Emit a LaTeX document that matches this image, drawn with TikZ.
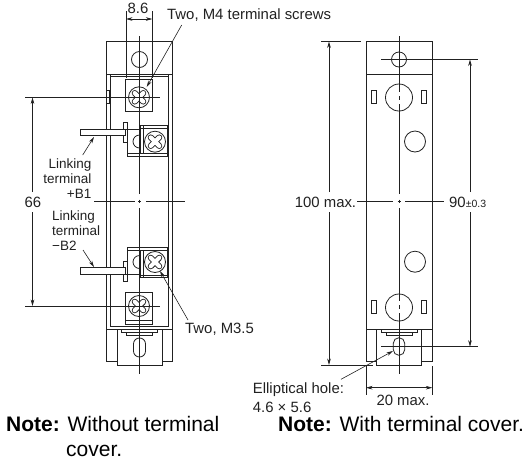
\documentclass[tikz,border=0pt]{standalone}
\usepackage{fontspec}
\setmainfont{Liberation Sans}
\usetikzlibrary{arrows.meta}
\definecolor{ink}{gray}{0.13}
\tikzset{
  body/.style={draw=ink,line width=0.8pt},
  thin line/.style={draw=ink,line width=0.6pt},
  dim/.style={draw=ink,line width=0.6pt,{Stealth[length=6.5pt,width=3.6pt]}-{Stealth[length=6.5pt,width=3.6pt]}},
  lead/.style={draw=ink,line width=0.6pt,-{Stealth[length=6.5pt,width=3.6pt]}},
  label/.style={inner sep=0pt,font=\fontsize{14.9}{15.2}\selectfont,text=ink},
  small label/.style={inner sep=0pt,font=\fontsize{13.5}{15.2}\selectfont,text=ink},
  note/.style={inner sep=0pt,font=\fontsize{21}{24}\selectfont,text=black,anchor=base west},
}
\newcommand{\myscrew}[2]{%
  \draw[body,fill=white] (#1,#2) circle (10.5);
  \foreach \ang in {45,135}{\draw[ink,line width=6pt,line cap=round] (#1,#2) ++(\ang:6) -- ++(\ang:-12);}
  \foreach \ang in {45,135}{\draw[white,line width=4.2pt,line cap=round] (#1,#2) ++(\ang:6) -- ++(\ang:-12);}
}
\newcommand{\mybottom}[1]{%
  \draw[body] (#1-33,329.3) rectangle (#1+33.2,361.7);
  \draw[body,fill=white] (#1-22.5,329.3) rectangle (#1+22.5,365);
  \draw[body] (#1-18,329.5) -- (#1-18,332.5) -- (#1+18,332.5) -- (#1+18,329.5);
  \draw[body] (#1-13,332.5) -- (#1-13,335.3) -- (#1+13,335.3) -- (#1+13,332.5);
}
\begin{document}
\begin{tikzpicture}[x=1pt,y=-1pt]
\useasboundingbox (0,0) rectangle (525,459);
% ---------- left view ----------
\draw[body] (106.5,41.5) rectangle (172.5,74);
\draw[body] (139.5,59.5) circle (8);
\draw[body] (106.5,74) -- (106.5,329.3) (110,74) -- (110,326.7) (168.5,74) -- (168.5,326.7) (172.5,74) -- (172.5,329.3);
\draw[body] (110,76.7) -- (168.5,76.7) (110,326.7) -- (168.5,326.7);
\draw[body] (106.5,90) rectangle (109.5,103);
% terminal squares
\draw[body,fill=white] (125.5,79) rectangle (152.5,111.5);
\draw[body,fill=white] (125.5,292) rectangle (152.5,324.5);
\draw[body] (125.5,320.5) -- (152.5,320.5);
% upper link block
\draw[body,fill=white] (140,125.7) rectangle (167.7,153.5);
\draw[body] (127.3,135.7) -- (127.3,156) -- (167.7,156) -- (167.7,153.5) (127.3,153.5) -- (140,153.5);
\draw[body] (143,125.7) -- (143,153.5) (140,128) -- (167.7,128);
\draw[body] (139.5,135) arc (270:90:6.5);
\draw[body,fill=white] (123.3,122.5) rectangle (127.3,142);
\draw[body,fill=white] (80.5,129) rectangle (125,135.7);
\draw[body] (125,129) -- (140,129);
% lower link block
\draw[body,fill=white] (140,250) rectangle (167.7,277.8);
\draw[body] (127.3,267.8) -- (127.3,247) -- (167.7,247) -- (167.7,250) (127.3,250) -- (140,250);
\draw[body] (143,250) -- (143,277.8) (140,275.5) -- (167.7,275.5);
\draw[body] (139.5,255.5) arc (270:90:6.5);
\draw[body,fill=white] (123.3,261.5) rectangle (127.3,281);
\draw[body,fill=white] (80.5,267.8) rectangle (125,274.5);
\draw[body] (125,274.5) -- (140,274.5);
% screws
\myscrew{139}{97.3}
\myscrew{139}{306}
\myscrew{155}{141.7}
\myscrew{155}{262}
\mybottom{139.5}
\draw[body,rounded corners=5.9pt] (133.5,338) rectangle (145.5,357);
% centre lines and dimensions
\draw[thin line] (139.5,36) -- (139.5,194) (139.5,199.5) -- (139.5,203) (139.5,208) -- (139.5,374);
\draw[thin line] (94,201.5) -- (135,201.5) (138,201.5) -- (141,201.5) (146,201.5) -- (185,201.5);
\draw[thin line] (25,97.5) -- (160,97.5) (25,306) -- (160,306);
\draw[thin line] (126,11) -- (126,78) (152.3,11) -- (152.3,78);
\coordinate (w1) at (126,19); \coordinate (w2) at (152.3,19);
\draw[dim] (w1) -- (w2);
\node[label] (n86) at (138,8.5) {8.6};
\node[label,anchor=west] (m4) at (167,15.5) {Two, M4 terminal screws};
\coordinate (m4a) at (181.7,25); \coordinate (m4b) at (146.7,87);
\draw[lead] (m4a) -- (m4b);
\node[label] (n66) at (33,202) {66};
\coordinate (d66a) at (32.5,97.5); \coordinate (d66b) at (32.5,306);
\draw[lead] (32.5,192) -- (d66a);
\draw[lead] (32.5,212) -- (d66b);
\node[small label,align=right,anchor=north east] (lk1) at (91.5,158.5) {Linking\\terminal\\+B1};
\node[small label,align=left,anchor=north west] (lk2) at (52,210.5) {Linking\\terminal\\−B2};
\coordinate (l1a) at (82.7,155); \coordinate (l1b) at (94,137);
\draw[lead] (l1a) -- (l1b);
\coordinate (l2a) at (83,250); \coordinate (l2b) at (94,267);
\draw[lead] (l2a) -- (l2b);
\node[label,anchor=west] (m35) at (185,329) {Two, M3.5};
\coordinate (m3a) at (188,320); \coordinate (m3b) at (160,271);
\draw[lead] (m3a) -- (m3b);
% ---------- right view ----------
\draw[body] (366,41.5) rectangle (432.3,329.3);
\draw[body] (366,74) -- (432.3,74);
\draw[body] (399,59.5) circle (7.5);
\draw[body] (399,97.5) circle (13.5);
\draw[body] (399,307.5) circle (13.5);
\draw[body] (415,141.5) circle (10.5);
\draw[body] (415,261.7) circle (10.5);
\draw[body] (371.7,90) rectangle (376.7,103);
\draw[body] (421.7,90) rectangle (426.7,103);
\draw[body] (371.7,300) rectangle (376.7,313.3);
\draw[body] (421.7,300) rectangle (426.7,313.3);
\mybottom{399.2}
\draw[body,rounded corners=5.6pt] (393.3,337.7) rectangle (404.7,355.3);
\draw[thin line] (399,36) -- (399,92) (399,96) -- (399,100) (399,104) -- (399,194) (399,199.5) -- (399,203) (399,208) -- (399,301) (399,305) -- (399,309) (399,313) -- (399,374);
\draw[thin line] (381,59.5) -- (477.7,59.5) (381,346.7) -- (477.7,346.7);
\draw[thin line] (357,201.5) -- (393,201.5) (397.5,201.5) -- (400.5,201.5) (405,201.5) -- (444,201.5);
\draw[thin line] (321,41.5) -- (360.7,41.5) (321,365) -- (373,365);
\draw[thin line] (366,366) -- (366,395) (432.3,366) -- (432.3,395);
\node[label] (n100) at (325.5,202.5) {100 max.};
\node[label,anchor=west] (n90) at (449,202.5) {90{\fontsize{10.5}{12}\selectfont ±0.3}};
\coordinate (a1) at (329,41.5); \coordinate (a2) at (329,365);
\draw[lead] (329,192) -- (a1);
\draw[lead] (329,212) -- (a2);
\coordinate (b1) at (470,59.5); \coordinate (b2) at (470,346.7);
\draw[lead] (470,192) -- (b1);
\draw[lead] (470,212) -- (b2);
\coordinate (c1) at (366,387.7); \coordinate (c2) at (432.3,387.7);
\draw[dim] (c1) -- (c2);
\node[label] (n20) at (403,400) {20 max.};
\node[label,anchor=west] (ell1) at (252.7,390) {Elliptical hole:};
\node[label,anchor=west] (ell2) at (252.7,407.7) {4.6 × 5.6};
\coordinate (ea) at (341,379.3); \coordinate (eb) at (393,351);
\draw[lead] (ea) -- (eb);
% notes
\node[note] (nl) at (6,431.5) {\textbf{Note:} Without terminal};
\node[note] (nl2) at (66,456) {cover.};
\node[note] (nr) at (278,431.5) {\textbf{Note:} With terminal cover.};
\end{tikzpicture}
\end{document}
